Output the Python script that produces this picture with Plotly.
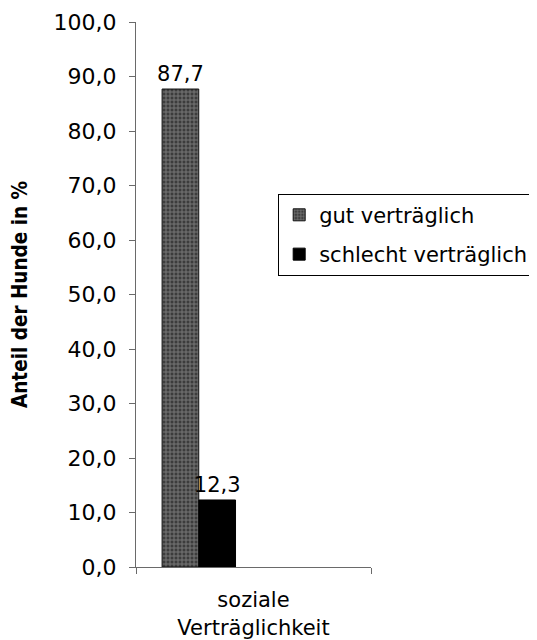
import plotly.graph_objects as go

categories = ["soziale<br>Verträglichkeit"]
series_names = ["gut verträglich", "schlecht verträglich"]
gut_values = [87.7]
schlecht_values = [12.3]
y_ticks = [0, 10, 20, 30, 40, 50, 60, 70, 80, 90, 100]

FONT = "DejaVu Sans, Liberation Sans, Arial, sans-serif"
TITLE_FONT = "Liberation Sans Narrow, DejaVu Sans Condensed, Arial Narrow, sans-serif"
AXIS_COLOR = "#6a6a6a"

fig = go.Figure()
fig.add_trace(go.Bar(
    x=categories, y=gut_values, name=series_names[0],
    width=0.156, offset=-0.389,
    marker=dict(color="#3c3c3c", line=dict(color="#111111", width=1),
                pattern=dict(shape="+", fgcolor="#b0b0b0", bgcolor="#3c3c3c", size=4, solidity=0.45)),
    texttemplate="%{y:.1f}", textposition="outside", constraintext="none",
    textfont=dict(family=FONT, size=21, color="black"),
    cliponaxis=False, legendgroup="a",
))
fig.add_trace(go.Bar(
    x=categories, y=schlecht_values, name=series_names[1],
    width=0.156, offset=-0.2325,
    marker=dict(color="black", line=dict(color="black", width=1)),
    texttemplate="%{y:.1f}", textposition="outside", constraintext="none",
    textfont=dict(family=FONT, size=21, color="black"),
    cliponaxis=False, legendgroup="b",
))

fig.update_layout(
    width=537, height=640,
    margin=dict(l=128, r=166, t=14, b=81),
    paper_bgcolor="white", plot_bgcolor="white",
    separators=",.",
    font=dict(family=FONT, size=21, color="black"),
    showlegend=True,
    legend=dict(
        x=0.605, y=0.685, xanchor="left", yanchor="top",
        bordercolor="black", borderwidth=1,
        font=dict(family=FONT, size=21, color="black"),
        traceorder="grouped", tracegroupgap=9, itemwidth=30,
    ),
    xaxis=dict(
        type="category", range=[-0.5, 0.5], automargin=False,
        showline=True, linecolor=AXIS_COLOR, linewidth=1,
        ticks="outside", tickson="boundaries", ticklen=6, tickcolor=AXIS_COLOR,
        ticklabelstandoff=14,
        tickfont=dict(family=FONT, size=21, color="black"),
        showgrid=False, zeroline=False,
    ),
    yaxis=dict(
        range=[0, 100], tickvals=y_ticks, tickformat=".1f", automargin=False,
        showline=True, linecolor=AXIS_COLOR, linewidth=1,
        ticks="outside", ticklen=6, tickcolor=AXIS_COLOR,
        ticklabelstandoff=8,
        tickfont=dict(family=FONT, size=22, color="black"),
        showgrid=False, zeroline=False,
        title=dict(text="<b>Anteil der Hunde in %</b>", standoff=20,
                   font=dict(family=TITLE_FONT, size=20.5, color="black")),
    ),
)

fig.write_html("out.html")
